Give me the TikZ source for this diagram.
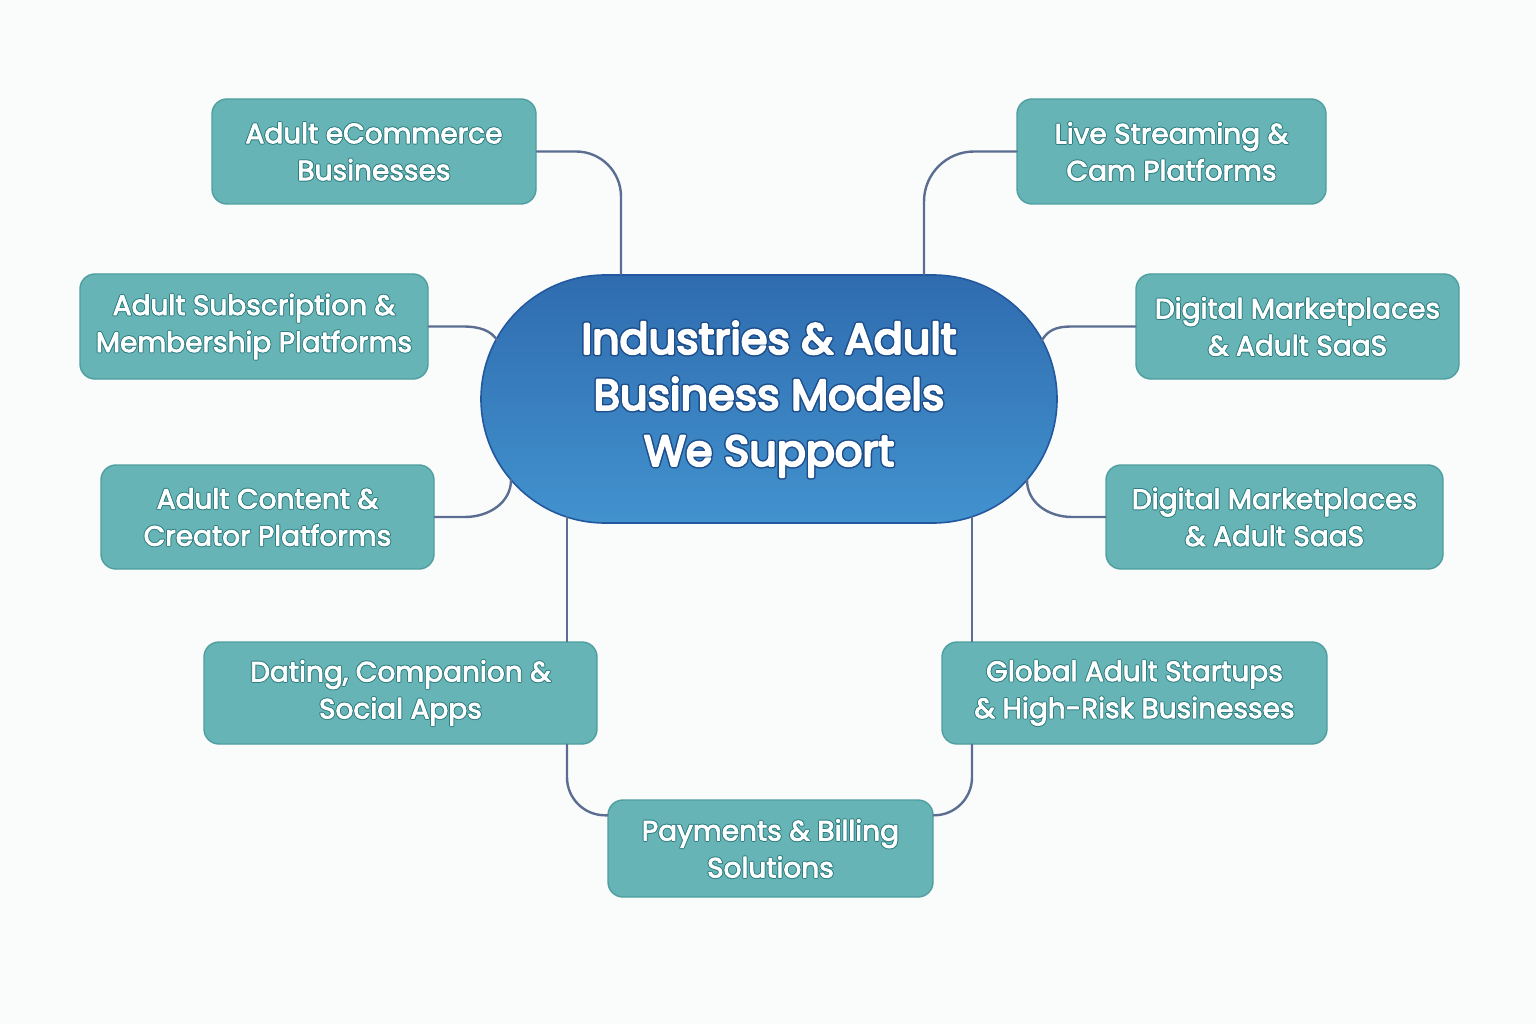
\documentclass[tikz,border=0pt]{standalone}
\usepackage{fontspec}
\setmainfont{Poppins}
\newfontfamily\cardface[FakeBold=3]{Poppins}
\newfontfamily\cardhalo[FakeBold=10]{Poppins}
\newfontfamily\hubface[FakeBold=5]{Poppins}
\newfontfamily\hubhalo[FakeBold=12]{Poppins}
\usetikzlibrary{calc}
\definecolor{hubBlue}{HTML}{2F6CAF}
\definecolor{hubBlueLight}{HTML}{4292CE}
\definecolor{hubEdge}{HTML}{22589E}
\definecolor{hubInk}{HTML}{1D4E8C}
\definecolor{tealFill}{HTML}{66B4B6}
\definecolor{tealEdge}{HTML}{4E9EA0}
\definecolor{tealInk}{HTML}{2E7E81}
\definecolor{linkSlate}{HTML}{5B6E92}
\definecolor{paperWhite}{HTML}{FAFBFB}
\newcommand\cardline[1]{\leavevmode\rlap{\color{tealInk}\cardhalo #1}{\cardface #1}}
\newcommand\hubline[1]{\leavevmode\rlap{\color{hubInk}\hubhalo #1}{\hubface #1}}

\begin{document}
\begin{tikzpicture}[x=1pt,y=-1pt,line cap=round,line join=round]
\path[fill=paperWhite] (0,0) rectangle (1536,1024);
\tikzset{card/.style={draw=tealEdge,fill=tealFill,line width=1.4pt,rounded corners=15pt,text=white,font=\fontsize{28}{37}\selectfont,align=center,inner sep=0pt},link/.style={draw=linkSlate,line width=2.4pt}}
% hub
\node[draw=hubEdge,line width=1.6pt,top color=hubBlue,bottom color=hubBlueLight,rounded corners=124pt,minimum width=576pt,minimum height=248pt,inner sep=0pt,text=white,align=center,font=\fontsize{43}{56}\selectfont] (hub) at (769,399) {\hubline{Industries \& Adult}\\\hubline{Business Models}\\\hubline{We Support}};
% cards
\node[card,minimum width=324pt,minimum height=105pt] (ecom) at (374,151.5) {\cardline{Adult eCommerce}\\\cardline{Businesses}};
\node[card,minimum width=309pt,minimum height=105pt] (live) at (1171.5,151.5) {\cardline{Live Streaming \&}\\\cardline{Cam Platforms}};
\node[card,minimum width=348pt,minimum height=105pt] (subs) at (254,326.5) {\cardline{Adult Subscription \&}\\\cardline{Membership Platforms}};
\node[card,minimum width=323pt,minimum height=105pt] (market) at (1297.5,326.5) {\cardline{Digital Marketplaces}\\\cardline{\& Adult SaaS}};
\node[card,minimum width=333pt,minimum height=104pt] (creator) at (267.5,517) {\cardline{Adult Content \&}\\\cardline{Creator Platforms}};
\node[card,minimum width=337pt,minimum height=104pt] (saas) at (1274.5,517) {\cardline{Digital Marketplaces}\\\cardline{\& Adult SaaS}};
\node[card,minimum width=393pt,minimum height=102pt] (dating) at (400.5,693) {\cardline{Dating, Companion \&}\\\cardline{Social Apps}};
\node[card,minimum width=385pt,minimum height=102pt] (global) at (1134.5,693) {\cardline{Global Adult Startups}\\\cardline{\& High-Risk Businesses}};
\node[card,minimum width=325pt,minimum height=97pt] (pay) at (770.5,848.5) {\cardline{Payments \& Billing}\\\cardline{Solutions}};
% links
\coordinate (hubSW) at ($(hub.center)+(-202,118)$); \coordinate (hubSE) at ($(hub.center)+(203,118)$);
\draw[link,rounded corners=45pt] (ecom.east) -| ($(hub.north)+(-148,0)$);
\draw[link,rounded corners=50pt] (live.west) -| ($(hub.north)+(155,0)$);
\draw[link] (subs.east) -- ++(34,0) .. controls +(18,0) and +(-6,-9) .. ($(hub.center)+(-272,-59)$);
\draw[link] (market.west) -- ++(-63,0) .. controls +(-18,0) and +(6,-9) .. ($(hub.center)+(273,-59)$);
\draw[link] (creator.east) -- ++(30,0) .. controls +(25,0) and +(0,22) .. ($(hub.center)+(-258,81)$);
\draw[link] (saas.west) -- ++(-33,0) .. controls +(-25,0) and +(0,22) .. ($(hub.center)+(258,81)$);
\draw[link] (hubSW) -- (hubSW |- dating.north); \draw[link] (hubSE) -- (hubSE |- global.north);
\draw[link,rounded corners=38pt] (hubSW |- dating.south) |- ($(pay.north west)+(0,16)$);
\draw[link,rounded corners=38pt] (hubSE |- global.south) |- ($(pay.north east)+(0,16)$);
\end{tikzpicture}
\end{document}
